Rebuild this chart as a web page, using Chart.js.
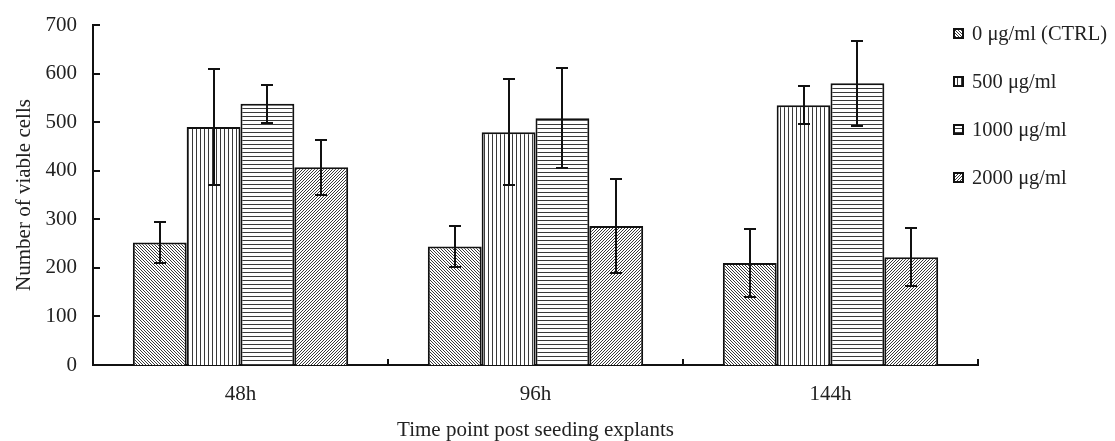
<!DOCTYPE html>
<html>
<head>
<meta charset="utf-8">
<script src="https://cdn.jsdelivr.net/npm/chart.js@4.4.1/dist/chart.umd.min.js"></script>
<style>
  body { margin: 0; background: #fff; }
  #wrap { position: relative; width: 1115px; height: 441px; }
  #legend {
    position: absolute; left: 953px; top: 9px;
    font-family: 'Liberation Serif', 'Times New Roman', serif;
    font-size: 20.5px; color: #222;
  }
  .row { display: flex; align-items: center; height: 48px; white-space: nowrap; }
  .row canvas { margin-right: 8px; }
</style>
</head>
<body>
<div id="wrap">
  <canvas id="chart"></canvas>
  <div id="legend"></div>
</div>
<script>
const categories = ["48h", "96h", "144h"];
const seriesNames = ["0 μg/ml (CTRL)", "500 μg/ml", "1000 μg/ml", "2000 μg/ml"];
const ctrlValues = [252, 244, 210];
const ctrlErrors = [43, 42, 70];
const d500Values = [490, 479, 535];
const d500Errors = [120, 109, 39];
const d1000Values = [538, 508, 580];
const d1000Errors = [39, 103, 87];
const d2000Values = [407, 286, 222];
const d2000Errors = [57, 96, 60];
const yTicks = [0, 100, 200, 300, 400, 500, 600, 700];

const FONT = "'Liberation Serif', 'Times New Roman', serif";

// small pixel tiles used as hatch fills
function makeHatch(kind) {
  const s = (kind === "v" || kind === "h") ? 4 : 3;
  const c = document.createElement("canvas");
  c.width = s; c.height = s;
  const g = c.getContext("2d");
  g.fillStyle = "#fff";
  g.fillRect(0, 0, s, s);
  g.fillStyle = "#3a3a3a";
  for (let x = 0; x < s; x++) {
    for (let y = 0; y < s; y++) {
      let on = false;
      if (kind === "back") on = ((x - y) % s + s) % s === 0;
      if (kind === "fwd") on = (x + y) % s === 0;
      if (kind === "v") on = x === 0;
      if (kind === "h") on = y === 0;
      if (on) g.fillRect(x, y, 1, 1);
    }
  }
  return c;
}
const patCtx = document.createElement("canvas").getContext("2d");
const hatchKinds = ["back", "v", "h", "fwd"];
const patterns = hatchKinds.map(k => patCtx.createPattern(makeHatch(k), "repeat"));

const seriesValues = [ctrlValues, d500Values, d1000Values, d2000Values];
const seriesErrors = [ctrlErrors, d500Errors, d1000Errors, d2000Errors];

// legend, placed over the top right corner like the original
const legend = document.getElementById("legend");
seriesNames.forEach((name, i) => {
  const row = document.createElement("div");
  row.className = "row";
  const sw = document.createElement("canvas");
  sw.width = 11; sw.height = 11;
  const g = sw.getContext("2d");
  g.fillStyle = g.createPattern(makeHatch(hatchKinds[i]), "repeat");
  g.fillRect(0, 0, 11, 11);
  g.strokeStyle = "#111";
  g.lineWidth = 2;
  g.strokeRect(1, 1, 9, 9);
  const label = document.createElement("span");
  label.textContent = name;
  row.appendChild(sw);
  row.appendChild(label);
  legend.appendChild(row);
});

const errorBars = {
  id: "errorBars",
  afterDatasetsDraw(chart) {
    const { ctx } = chart;
    const y = chart.scales.y;
    ctx.save();
    ctx.strokeStyle = "#111";
    ctx.lineWidth = 2;
    chart.data.datasets.forEach((ds, di) => {
      const meta = chart.getDatasetMeta(di);
      meta.data.forEach((bar, i) => {
        const m = ds.data[i], e = seriesErrors[di][i];
        const top = Math.round(y.getPixelForValue(m + e));
        const bot = Math.round(y.getPixelForValue(m - e));
        const x = Math.round(bar.x);
        ctx.beginPath();
        ctx.moveTo(x, top); ctx.lineTo(x, bot);
        ctx.moveTo(x - 6, top); ctx.lineTo(x + 6, top);
        ctx.moveTo(x - 6, bot); ctx.lineTo(x + 6, bot);
        ctx.stroke();
      });
    });
    ctx.restore();
  }
};

// inward tick marks on both axes
const innerTicks = {
  id: "innerTicks",
  afterDraw(chart) {
    const { ctx, chartArea: a } = chart;
    const { x, y } = chart.scales;
    ctx.save();
    ctx.strokeStyle = "#111";
    ctx.lineWidth = 2;
    ctx.beginPath();
    y.ticks.forEach(t => {
      const py = Math.round(y.getPixelForValue(t.value));
      ctx.moveTo(a.left, py); ctx.lineTo(a.left + 7, py);
    });
    const half = (x.getPixelForValue(1) - x.getPixelForValue(0)) / 2;
    categories.forEach((c, i) => {
      const px = Math.round(x.getPixelForValue(i) + half);
      ctx.moveTo(px, a.bottom); ctx.lineTo(px, a.bottom - 6);
    });
    ctx.stroke();
    ctx.restore();
  }
};

new Chart(document.getElementById("chart"), {
  type: "bar",
  data: {
    labels: categories,
    datasets: seriesNames.map((name, i) => ({
      label: name,
      data: seriesValues[i],
      backgroundColor: patterns[i],
      borderColor: "#111",
      borderWidth: 2,
      borderSkipped: "bottom",
      barPercentage: 1,
      categoryPercentage: 0.73
    }))
  },
  options: {
    responsive: true,
    maintainAspectRatio: false,
    animation: false,
    layout: { padding: { top: 25, right: 137, left: 0, bottom: 0 } },
    plugins: { legend: { display: false }, tooltip: { enabled: false } },
    scales: {
      x: {
        grid: { display: false, drawTicks: false },
        border: { display: true, color: "#111", width: 2 },
        ticks: { color: "#222", padding: 17, font: { family: FONT, size: 21 } },
        title: {
          display: true,
          text: "Time point post seeding explants",
          color: "#222",
          padding: 0,
          font: { family: FONT, size: 21, lineHeight: 1 }
        },
        afterFit(scale) { scale.height = 76; }
      },
      y: {
        min: 0,
        max: 700,
        grid: { display: false, drawTicks: false },
        border: { display: true, color: "#111", width: 2 },
        ticks: {
          color: "#222",
          padding: 16,
          stepSize: 100,
          font: { family: FONT, size: 21, lineHeight: 1 }
        },
        afterBuildTicks(scale) { scale.ticks = yTicks.map(v => ({ value: v })); },
        title: {
          display: true,
          text: "Number of viable cells",
          color: "#222",
          padding: 12,
          font: { family: FONT, size: 21 }
        },
        afterFit(scale) {
          scale.width = 93;
          scale.paddingTop = 0;
          scale.paddingBottom = 0;
        }
      }
    }
  },
  plugins: [errorBars, innerTicks]
});
</script>
</body>
</html>
